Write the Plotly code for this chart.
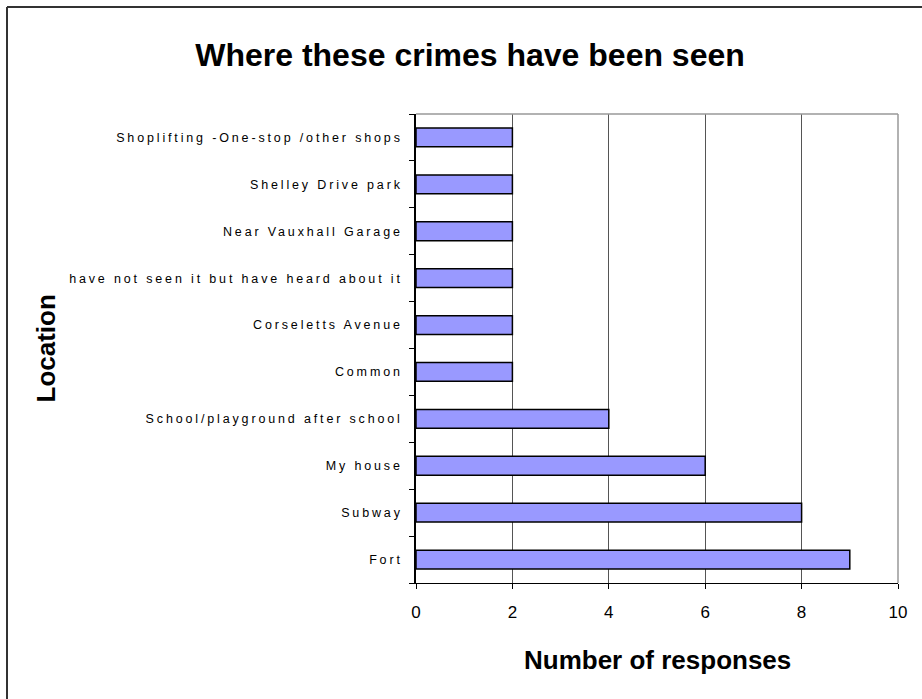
import plotly.graph_objects as go

# Data (bottom to top)
locations = [
    "Fort",
    "Subway",
    "My house",
    "School/playground after school",
    "Common",
    "Corseletts Avenue",
    "have not seen it but have heard about it",
    "Near Vauxhall Garage",
    "Shelley Drive park",
    "Shoplifting -One-stop /other shops",
]
responses = [9, 8, 6, 4, 2, 2, 2, 2, 2, 2]
x_ticks = [0, 2, 4, 6, 8, 10]

W, H = 922, 699
L, R, T, B = 416, 24, 114, 116
pw, ph = W - L - R, H - T - B

def px_to_paper_x(px):
    return (px - L) / pw

def px_to_paper_y(py):
    return (H - B - py) / ph

fig = go.Figure()
fig.add_trace(go.Bar(
    x=responses,
    y=locations,
    orientation="h",
    marker=dict(color="#9999FF", line=dict(color="black", width=1.5)),
    showlegend=False,
))

font_family = "Liberation Sans, Arial, sans-serif"

fig.update_layout(
    width=W, height=H,
    margin=dict(l=L, r=R, t=T, b=B),
    paper_bgcolor="white",
    plot_bgcolor="white",
    bargap=0.6,
    font=dict(family=font_family, color="black"),
    title=dict(
        text="<b>Where these crimes have been seen</b>",
        x=470 / W, xanchor="center",
        y=1 - 55 / H, yanchor="middle",
        font=dict(size=32, family=font_family, color="black"),
    ),
    xaxis=dict(
        range=[0, 10],
        tickvals=x_ticks,
        ticktext=[str(v) for v in x_ticks],
        ticks="outside", ticklen=5, tickcolor="black",
        showline=True, linecolor="black", linewidth=1,
        showgrid=True, gridcolor="#555555", gridwidth=1,
        zeroline=False,
        tickfont=dict(size=17, family=font_family),
        ticklabelstandoff=9,
        fixedrange=True,
    ),
    yaxis=dict(
        categoryorder="array", categoryarray=locations,
        ticks="outside", ticklen=5, tickcolor="black",
        tickson="boundaries",
        showline=True, linecolor="black", linewidth=1.5,
        showgrid=False, zeroline=False,
        tickfont=dict(size=12.5, family=font_family),
        ticklabelstandoff=9,
        fixedrange=True,
    ),
    shapes=[
        # plot area top/right frame (gray)
        dict(type="line", xref="paper", yref="paper", x0=0, x1=1, y0=1, y1=1,
             line=dict(color="#999999", width=1.5)),
        dict(type="line", xref="paper", yref="paper", x0=1, x1=1, y0=0, y1=1,
             line=dict(color="#999999", width=1.5)),
        # outer chart border (left and top)
        dict(type="line", xref="paper", yref="paper",
             x0=px_to_paper_x(7), x1=px_to_paper_x(7),
             y0=px_to_paper_y(7), y1=px_to_paper_y(H + 5),
             line=dict(color="#333333", width=2)),
        dict(type="line", xref="paper", yref="paper",
             x0=px_to_paper_x(7), x1=px_to_paper_x(W + 5),
             y0=px_to_paper_y(7), y1=px_to_paper_y(7),
             line=dict(color="#333333", width=2)),
    ],
    annotations=[
        dict(text="<b>Number of responses</b>", xref="paper", yref="paper",
             x=0.5, y=px_to_paper_y(660), xanchor="center", yanchor="middle",
             showarrow=False, font=dict(size=26, family=font_family, color="black")),
        dict(text="<b>Location</b>", xref="paper", yref="paper",
             x=px_to_paper_x(45), y=0.5, xanchor="center", yanchor="middle",
             textangle=-90, showarrow=False,
             font=dict(size=26, family=font_family, color="black")),
    ],
)

post = """
var s = document.createElement('style');
s.innerHTML = 'html, body { margin: 0; padding: 0; } .ytick text { letter-spacing: 2.85px; }';
document.head.appendChild(s);
"""
fig.write_html("out.html", post_script=post, config={"displayModeBar": False})
